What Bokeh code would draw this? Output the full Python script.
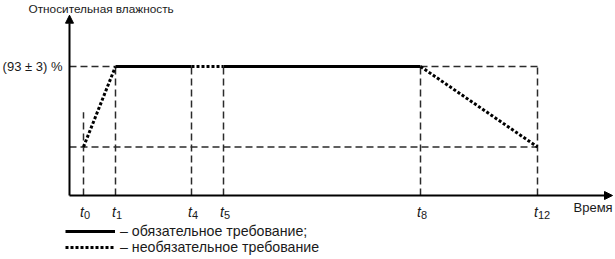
from bokeh.plotting import figure
from bokeh.models import Range1d, Arrow, NormalHead, Legend, LegendItem, ColumnDataSource
from bokeh.core.properties import value
from bokeh.embed import file_html
from bokeh.resources import INLINE

# Time marks (relative units along the time axis) and their subscripts
times = [14, 46, 122, 154, 351, 468]
time_subs = ["0", "1", "4", "5", "8", "12"]

# Relative humidity levels, %
rh_target = 93
rh_start = 35
rh_t0_guide = 60
y_axis_top = 130
x_axis_end = 543

title_text = "Относительная влажность"
target_text = "(93 ± 3) %"
time_axis_text = "Время"
required_text = "– обязательное требование;"
optional_text = "– необязательное требование"

t0, t1, t4, t5, t8, t12 = times

FONT = "Liberation Sans"
FS = "13px"
k = 129 / 93  # pixels per humidity unit

p = figure(width=615, height=259, output_backend="svg", toolbar_location=None,
           x_range=Range1d(-69, 546), y_range=Range1d(-64 / k, 195 / k),
           x_axis_location=None, y_axis_location=None, min_border=0,
           outline_line_color=None, background_fill_color="white")
p.grid.visible = False

# Dashed guide lines
guide = dict(line_color="#2b2b2b", line_width=1.5, line_dash="7 4")
p.multi_line(
    xs=[[0, t1], [t8, t12], [0, t12], [t0, t0]] + [[t, t] for t in (t1, t4, t5, t8, t12)],
    ys=[[rh_target, rh_target], [rh_target, rh_target], [rh_start, rh_start],
        [0, rh_t0_guide]] + [[0, rh_target]] * 5,
    **guide)

# Required part of the humidity profile
req = p.multi_line(xs=[[t1, t4], [t5, t8]],
                   ys=[[rh_target, rh_target], [rh_target, rh_target]],
                   line_color="black", line_width=3)
# Optional part of the humidity profile
opt = p.multi_line(xs=[[t0, t1], [t4, t5], [t8, t12]],
                   ys=[[rh_start, rh_target], [rh_target, rh_target], [rh_target, rh_start]],
                   line_color="black", line_width=3, line_dash="3 2")

# Axes with arrow heads
p.add_layout(Arrow(x_start=0, y_start=0, x_end=0, y_end=y_axis_top,
                   line_color="black", line_width=2,
                   end=NormalHead(size=8, fill_color="black", line_color="black")))
p.add_layout(Arrow(x_start=0, y_start=0, x_end=x_axis_end, y_end=0,
                   line_color="black", line_width=2,
                   end=NormalHead(size=8, fill_color="black", line_color="black")))

# Time tick labels: italic t with subscript
src = ColumnDataSource(dict(x=times, y=[0] * len(times), sub=time_subs,
                            t=["t"] * len(times)))
p.text(x="x", y="y", text="t", source=src, text_align="right",
       text_baseline="alphabetic", y_offset=16, x_offset=0.5,
       text_font=value(FONT), text_font_size="14px", text_font_style="italic",
       text_color="#1a1a1a")
p.text(x="x", y="y", text="sub", source=src, text_align="left",
       text_baseline="alphabetic", y_offset=19.5, x_offset=0.5,
       text_font=value(FONT), text_font_size="11px", text_color="#1a1a1a")

# Axis titles and level label
p.text(x=[-41], y=[187 / k], text=[title_text], text_align="left",
       text_baseline="middle", text_font=value(FONT), text_font_size="11.8px",
       text_color="#1a1a1a")
p.text(x=[-7], y=[rh_target], text=[target_text], text_align="right",
       text_baseline="middle", text_font=value(FONT), text_font_size=FS,
       text_color="#1a1a1a")
p.text(x=[504], y=[0], text=[time_axis_text], text_align="left",
       text_baseline="middle", y_offset=12, text_font=value(FONT),
       text_font_size=FS, text_color="#1a1a1a")

legend = Legend(items=[LegendItem(label=required_text, renderers=[req]),
                       LegendItem(label=optional_text, renderers=[opt])],
                location=(65, 4), orientation="vertical",
                glyph_width=50, glyph_height=16, label_height=16, spacing=0,
                label_standoff=5, padding=0, margin=0,
                border_line_color=None, background_fill_alpha=0,
                label_text_font=FONT, label_text_font_size="14.2px",
                label_text_color="#1a1a1a")
p.add_layout(legend)

open("out.html", "w").write(file_html(p, INLINE))
